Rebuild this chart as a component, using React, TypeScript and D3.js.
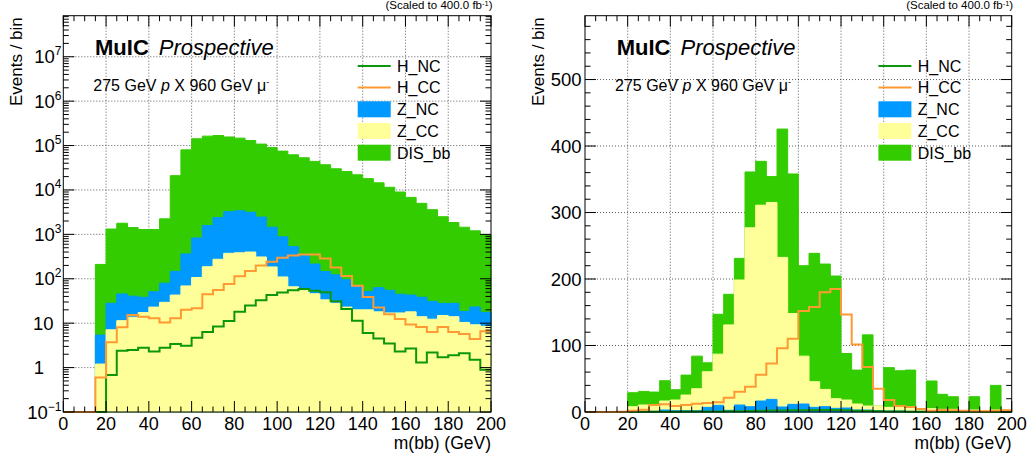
import React from "react";
import * as d3 from "d3";

// ---------- data ----------
const binLow = [0, 5, 10, 15, 20, 25, 30, 35, 40, 45, 50, 55, 60, 65, 70, 75, 80, 85, 90, 95,
  100, 105, 110, 115, 120, 125, 130, 135, 140, 145, 150, 155, 160, 165, 170, 175, 180, 185, 190, 195];
const xMax = 200;
const xMajorTicks = [0, 20, 40, 60, 80, 100, 120, 140, 160, 180, 200];
const xMinorTicks = [5, 10, 15, 25, 30, 35, 45, 50, 55, 65, 70, 75, 85, 90, 95, 105, 110, 115, 125, 130, 135,
  145, 150, 155, 165, 170, 175, 185, 190, 195];

const leftYExponents = [-1, 0, 1, 2, 3, 4, 5, 6, 7];
const leftYMin = 0.1;
const leftYMax = 8.4e7;
const rightYTicks = [0, 100, 200, 300, 400, 500];
const rightYMinor = [20, 40, 60, 80, 120, 140, 160, 180, 220, 240, 260, 280, 320, 340, 360, 380, 420, 440, 460, 480, 520, 540, 560, 580];
const rightYMax = 596;

const legendNames = ["H_NC", "H_CC", "Z_NC", "Z_CC", "DIS_bb"];

// Left panel (log scale)
const leftZCC = [0, 0, 0, 1.2, 7.1, 11.4, 13.6, 17.3, 23, 29.5, 43, 69, 107, 187, 275, 375, 385, 400, 310, 185,
  110, 66, 55, 46, 33.5, 28, 23, 20, 20, 18, 17, 17, 18, 14, 12.3, 14.9, 14, 10.4, 9.2, 8.5];
const leftZNC = [0, 0, 0, 4.2, 21, 34, 27, 21, 28, 50, 104, 294, 723, 1390, 2115, 2865, 3015, 2740, 2140, 1265,
  770, 464, 285, 169, 112, 95, 72, 49, 32, 45, 38, 28, 25, 24.5, 18.7, 13, 14, 8, 14, 9];
const leftDIS = [0, 0, 0, 205, 1290, 1735, 1380, 1250, 1240, 2160, 20850, 79640, 141200, 161400, 165600, 152800,
  143600, 126900, 105500, 88550, 74100, 61500, 52700, 43800, 36850, 29900, 25900, 21900, 17950, 14450, 11450,
  8950, 6760, 4960, 3570, 2470, 1820, 1430, 1180, 960];
const leftHNC = [0, 0, 0, 0, 0.68, 2.4, 2.5, 2.8, 2.3, 2.8, 3.4, 3.1, 4.7, 6.3, 8.4, 11.2, 18.2, 25, 33, 43,
  49, 55, 59, 54, 50, 31, 21, 11.3, 6.0, 4.5, 3.5, 2.3, 2.7, 1.3, 2.2, 1.7, 1.9, 2.1, 1.5, 0.89];
const leftHCC = [0, 0, 0, 0.6, 3.7, 8.1, 15.3, 14, 13, 10.3, 13, 20, 21.6, 45, 56, 76, 114, 150, 200, 242,
  296, 335, 350, 350, 285, 180, 115, 70, 39, 22.5, 15.8, 12.4, 9.4, 8.2, 6.3, 8.2, 6.3, 5.7, 4.4, 6.6];

// Right panel (linear scale)
const rightZNC = [0, 0, 0, 0, 0.5, 0.5, 1, 3, 2, 2, 2, 7, 10, 2.5, 10.5, 8, 16.5, 19, 7.5, 11.5,
  12, 7, 8, 5.5, 6, 3, 3, 2, 1.5, 1.5, 1, 1, 1, 1, 1, 0.5, 0.5, 0.5, 0.5, 0.5];
const rightZCC = [0, 0, 0, 0, 7.5, 10, 9.5, 13.5, 16, 23.5, 33, 53.5, 77, 128.5, 188, 269, 294.5, 296, 225, 136.5,
  72, 38.6, 26, 14.5, 12, 9, 6, 7, 5.5, 5.5, 5, 3, 4, 3, 3, 1.5, 2.5, 1.5, 2.5, 2.5];
const rightDIS = [0, 0, 0, 0, 21, 20.5, 19.5, 30.5, 15.5, 30, 49, 13.5, 60, 46, 32.5, 84, 66, 39, 193, 210,
  136, 193, 188.5, 184.5, 70, 51, 107, 0, 59.7, 55, 57, 0, 41.6, 22.6, 19, 0, 20, 0, 37, 0];
const rightHNC = [0, 0, 0, 0, 0.2, 0.3, 0.4, 0.4, 0.5, 0.6, 0.6, 0.8, 0.9, 1.1, 1.3, 1.5, 1.8, 2.1, 2.4, 2.6,
  2.8, 3.0, 3.1, 2.9, 2.5, 2.0, 1.5, 1.1, 0.8, 0.6, 0.5, 0.4, 0.3, 0.3, 0.2, 0.2, 0.2, 0.1, 0.1, 0.1];
const rightHCC = [0, 0, 0, 0.5, 2, 3.5, 10.5, 11.5, 9, 10.5, 12.5, 13.5, 14.5, 21.5, 30.6, 38, 56, 73, 95.7, 110,
  152, 158, 180, 185, 146.5, 101.5, 67.5, 35, 18, 9, 7.5, 4.5, 2, 3, 2.5, 2, 1.5, 1, 2, 2.5];

// ---------- style ----------
const FONT = "'Liberation Sans', Arial, Helvetica, sans-serif";
const COLORS: Record<string, string> = {
  H_NC: "#0c960c",
  H_CC: "#ff9933",
  Z_NC: "#0099ff",
  Z_CC: "#ffff99",
  DIS_bb: "#33cc00",
};
const TOP = 15.7;
const BOTTOM = 412;

type PanelProps = {
  x0: number;
  x1: number;
  log: boolean;
  stackNames: string[];
  stackValues: number[][];
  lineNames: string[];
  lineValues: number[][];
};

function Panel(p: PanelProps) {
  const xs = d3.scaleLinear().domain([0, xMax]).range([p.x0, p.x1]);
  const ys: any = p.log
    ? d3.scaleLog().domain([leftYMin, leftYMax]).range([BOTTOM, TOP])
    : d3.scaleLinear().domain([0, rightYMax]).range([BOTTOM, TOP]);
  const yMin = p.log ? leftYMin : 0;
  const yv = (v: number) => ys(Math.max(v, yMin));
  const edges = [...binLow, xMax];
  const stepData = (vals: number[]) =>
    edges.map((e, i) => [e, vals[Math.min(i, vals.length - 1)]] as [number, number]);

  let running = binLow.map(() => 0);
  const cums = p.stackValues.map((vals) => {
    running = running.map((c, i) => c + vals[i]);
    return running;
  });

  const area = d3
    .area<[number, number]>()
    .x((d) => xs(d[0]))
    .y0(BOTTOM)
    .y1((d) => yv(d[1]))
    .curve(d3.curveStepAfter);
  const line = d3
    .line<[number, number]>()
    .x((d) => xs(d[0]))
    .y((d) => yv(d[1]))
    .curve(d3.curveStepAfter);

  const yMajor: number[] = p.log ? leftYExponents.map((e) => Math.pow(10, e)) : rightYTicks;
  const yMinor: number[] = p.log
    ? leftYExponents.flatMap((e) => [2, 3, 4, 5, 6, 7, 8, 9].map((m) => m * Math.pow(10, e))).filter((v) => v < leftYMax)
    : rightYMinor;

  const gridStyle = { stroke: "#333", strokeWidth: 0.8, strokeDasharray: "1,2" };

  const legendBoxX = p.x1 - 133.3;
  const legendTextX = p.x1 - 94;
  const legendRows = [66, 87.5, 109.3, 131, 152.7];

  return (
    <g>
      {/* grid */}
      {xMajorTicks.filter((t) => t > 0 && t < xMax).map((t) => (
        <line key={"gx" + t} x1={xs(t)} x2={xs(t)} y1={TOP} y2={BOTTOM} {...gridStyle} />
      ))}
      {yMajor.filter((t) => ys(t) < BOTTOM - 1).map((t) => (
        <line key={"gy" + t} x1={p.x0} x2={p.x1} y1={ys(t)} y2={ys(t)} {...gridStyle} />
      ))}

      {/* stacked fills, largest cumulative first */}
      {cums
        .map((c, k) => ({ c, k }))
        .reverse()
        .map(({ c, k }) => (
          <path
            key={"a" + k}
            d={area(stepData(c)) || ""}
            fill={COLORS[p.stackNames[k]]}
            stroke={COLORS[p.stackNames[k]]}
            strokeWidth={1}
          />
        ))}

      {/* overlay lines */}
      {p.lineValues.map((vals, k) => (
        <path
          key={"l" + k}
          d={line(stepData(vals)) || ""}
          fill="none"
          stroke={COLORS[p.lineNames[k]]}
          strokeWidth={2}
        />
      ))}

      {/* frame */}
      <rect x={p.x0} y={TOP} width={p.x1 - p.x0} height={BOTTOM - TOP} fill="none" stroke="#000" strokeWidth={1} />

      {/* x ticks */}
      {xMajorTicks.map((t) => (
        <g key={"xt" + t}>
          <line x1={xs(t)} x2={xs(t)} y1={BOTTOM} y2={BOTTOM - 11} stroke="#000" />
          <line x1={xs(t)} x2={xs(t)} y1={TOP} y2={TOP + 11} stroke="#000" />
          <text x={xs(t)} y={430} textAnchor="middle" fontSize={18} fontFamily={FONT}>
            {t}
          </text>
        </g>
      ))}
      {xMinorTicks.map((t) => (
        <g key={"xm" + t}>
          <line x1={xs(t)} x2={xs(t)} y1={BOTTOM} y2={BOTTOM - 5.5} stroke="#000" />
          <line x1={xs(t)} x2={xs(t)} y1={TOP} y2={TOP + 5.5} stroke="#000" />
        </g>
      ))}

      {/* y ticks */}
      {yMajor.map((t) => (
        <g key={"yt" + t}>
          <line x1={p.x0} x2={p.x0 + 11} y1={ys(t)} y2={ys(t)} stroke="#000" />
          <line x1={p.x1} x2={p.x1 - 11} y1={ys(t)} y2={ys(t)} stroke="#000" />
        </g>
      ))}
      {yMinor.map((t) => (
        <g key={"ym" + t}>
          <line x1={p.x0} x2={p.x0 + 5.5} y1={ys(t)} y2={ys(t)} stroke="#000" />
          <line x1={p.x1} x2={p.x1 - 5.5} y1={ys(t)} y2={ys(t)} stroke="#000" />
        </g>
      ))}

      {/* y tick labels */}
      {p.log
        ? leftYExponents.map((e) => {
            const y = ys(Math.pow(10, e)) + 6.5;
            if (e === 0)
              return (
                <text key={"yl" + e} x={p.x0 - 19.3} y={y} textAnchor="end" fontSize={18.5} fontFamily={FONT}>
                  1
                </text>
              );
            if (e === 1)
              return (
                <text key={"yl" + e} x={p.x0 - 9.8} y={y} textAnchor="end" fontSize={18.5} fontFamily={FONT}>
                  10
                </text>
              );
            return (
              <text key={"yl" + e} x={p.x0 - 1.8} y={y} textAnchor="end" fontSize={18.5} fontFamily={FONT}>
                <tspan>10</tspan>
                <tspan dy={-8} fontSize={12}>
                  {e < 0 ? "\u2212" + Math.abs(e) : String(e)}
                </tspan>
              </text>
            );
          })
        : rightYTicks.map((t) => (
            <text key={"yl" + t} x={p.x0 - 3.5} y={ys(t) + 6.5} textAnchor="end" fontSize={18.5} fontFamily={FONT}>
              {t}
            </text>
          ))}

      {/* axis titles */}
      <text x={p.x1} y={448.5} textAnchor="end" fontSize={17.5} fontFamily={FONT}>
        m(bb) (GeV)
      </text>
      <text
        transform={`translate(${p.x0 - 41.5},${TOP + 1.5}) rotate(-90)`}
        textAnchor="end"
        fontSize={17}
        fontFamily={FONT}
      >
        Events / bin
      </text>

      {/* luminosity note */}
      <text x={p.x1 + 1.5} y={9} textAnchor="end" fontSize={11.5} fontFamily={FONT}>
        <tspan>(Scaled to 400.0 fb</tspan>
        <tspan dy={-3.5} fontSize={7.5}>-1</tspan>
        <tspan dy={3.5}>)</tspan>
      </text>

      {/* labels */}
      <text x={p.x0 + 31.7} y={55} fontSize={22} fontFamily={FONT}>
        <tspan fontWeight="bold">MuIC</tspan>
        <tspan dx={10} fontStyle="italic">Prospective</tspan>
      </text>
      <text x={p.x0 + 30} y={90.5} fontSize={16} fontFamily={FONT}>
        <tspan>275 GeV </tspan>
        <tspan fontStyle="italic">p</tspan>
        <tspan> X 960 GeV {"\u03bc"}</tspan>
        <tspan dy={-6} fontSize={9}>-</tspan>
      </text>

      {/* legend */}
      {legendNames.map((name, i) => {
        const cy = legendRows[i];
        const isLine = name.startsWith("H_");
        return (
          <g key={"lg" + name}>
            {isLine ? (
              <line x1={legendBoxX} x2={legendBoxX + 33} y1={cy} y2={cy} stroke={COLORS[name]} strokeWidth={2} />
            ) : (
              <rect x={legendBoxX} y={cy - 8} width={33} height={16} fill={COLORS[name]} />
            )}
            <text x={legendTextX} y={cy + 5.8} fontSize={16} fontFamily={FONT}>
              {name}
            </text>
          </g>
        );
      })}
    </g>
  );
}

export default function App() {
  return (
    <svg
      width={1031}
      height={459}
      style={{ position: "absolute", left: 0, top: 0, background: "#fff" }}
    >
      <rect x={0} y={0} width={1031} height={459} fill="#fff" />
      <Panel
        x0={63.3}
        x1={491}
        log={true}
        stackNames={["Z_CC", "Z_NC", "DIS_bb"]}
        stackValues={[leftZCC, leftZNC, leftDIS]}
        lineNames={["H_NC", "H_CC"]}
        lineValues={[leftHNC, leftHCC]}
      />
      <Panel
        x0={585}
        x1={1011.7}
        log={false}
        stackNames={["Z_NC", "Z_CC", "DIS_bb"]}
        stackValues={[rightZNC, rightZCC, rightDIS]}
        lineNames={["H_NC", "H_CC"]}
        lineValues={[rightHNC, rightHCC]}
      />
    </svg>
  );
}
